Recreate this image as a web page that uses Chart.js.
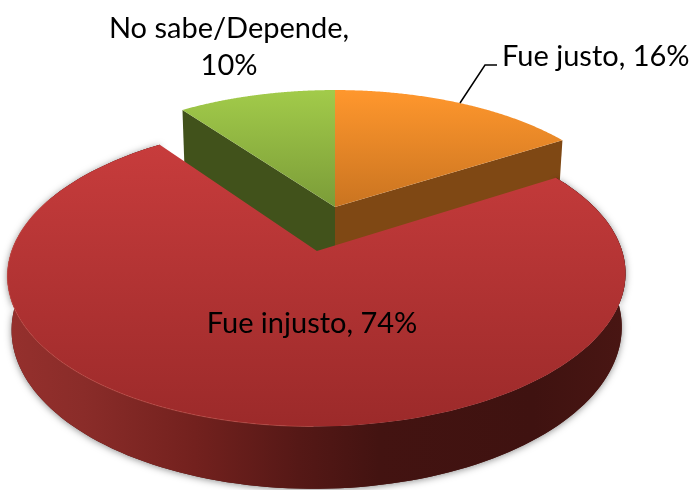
<!DOCTYPE html>
<html><head><meta charset="utf-8">
<style>html,body{margin:0;padding:0;background:#fff}#wrap{width:692px;height:490px;overflow:hidden}</style>
<script src="https://cdn.jsdelivr.net/npm/chart.js@4"></script>
</head><body><div id="wrap"><canvas id="c" width="692" height="490"></canvas></div>
<script>
const categories = ['Fue justo', 'Fue injusto', 'No sabe/Depende'];
const percentages = [16, 74, 10];
const sliceOffsets = [0, 67, 0];
const sliceColors = ['#E8842A', '#B53434', '#8CB043'];

// camera used to lay the flat pie of the library onto the tilted table
const view = {cx: 335, cy: 207, a: 291, b: 134.5, p: 0.15, depth: 50, shrink: 0.987};

function project(X, Y, low) {
  const w = 1 + view.p * Y;
  let sx = view.a * X / w, sy = -view.b * Y / w;
  if (low) { sx *= view.shrink; sy += view.depth / w; }
  return [view.cx + sx, view.cy + sy];
}
function geom(el) {
  const s = el.startAngle + Math.PI / 2, e = el.endAngle + Math.PI / 2, m = (s + e) / 2;
  const d = (el.options.offset || 0) / el.outerRadius;
  return {s, e, ox: d * Math.sin(m), oy: d * Math.cos(m)};
}
function rimPts(g, low, from, to) {
  const n = 160, pts = [];
  const a0 = from === undefined ? g.s : from, a1 = to === undefined ? g.e : to;
  for (let i = 0; i <= n; i++) {
    const t = a0 + (a1 - a0) * i / n;
    pts.push(project(g.ox + Math.sin(t), g.oy + Math.cos(t), low));
  }
  return pts;
}
function trace(ctx, pts) {
  pts.forEach((p, i) => i ? ctx.lineTo(p[0], p[1]) : ctx.moveTo(p[0], p[1]));
}
function vGrad(ctx, y0, y1, c0, c1) {
  const g = ctx.createLinearGradient(0, y0, 0, y1);
  g.addColorStop(0, c0); g.addColorStop(1, c1); return g;
}
function topFace(ctx, g, fill) {
  ctx.beginPath();
  const c = project(g.ox, g.oy, false);
  ctx.moveTo(c[0], c[1]);
  rimPts(g, false).forEach(p => ctx.lineTo(p[0], p[1]));
  ctx.closePath(); ctx.fillStyle = fill; ctx.fill();
}
function radialWall(ctx, g, ang, fill, extra) {
  const c = project(g.ox, g.oy, false), cl = project(g.ox, g.oy, true);
  const r = project(g.ox + Math.sin(ang), g.oy + Math.cos(ang), false);
  const rl = project(g.ox + Math.sin(ang), g.oy + Math.cos(ang), true);
  rl[1] += extra || 0;
  cl[1] += extra || 0;
  ctx.beginPath(); trace(ctx, [c, r, rl, cl]); ctx.closePath();
  ctx.fillStyle = fill; ctx.fill();
}

const pie3d = {
  id: 'pie3d',
  beforeDatasetsDraw(chart) {
    const ctx = chart.ctx, arcs = chart.getDatasetMeta(0).data;
    const [orange, red, green] = arcs.map(geom);
    ctx.save();

    // green and orange, at the back
    radialWall(ctx, green, green.s, '#41521B', 12);
    radialWall(ctx, orange, orange.e, '#7F4814');
    topFace(ctx, orange, vGrad(ctx, 90, 220, '#FF972D', '#C4701F'));
    topFace(ctx, green, vGrad(ctx, 90, 207, '#A2CB4A', '#7B9C38'));

    // red: side band with soft shadow
    const band = rimPts(red, false, red.s, red.e).concat(rimPts(red, true, red.s, red.e).reverse());
    ctx.save();
    ctx.shadowColor = 'rgba(0,0,0,0.45)'; ctx.shadowBlur = 7; ctx.shadowOffsetY = 1;
    ctx.beginPath(); trace(ctx, band); ctx.closePath();
    ctx.fillStyle = '#4a1512'; ctx.fill();
    ctx.restore();
    const side = ctx.createLinearGradient(10, 0, 625, 0);
    side.addColorStop(0, '#95302D');
    side.addColorStop(0.12, '#8A2C29');
    side.addColorStop(0.3, '#73211E');
    side.addColorStop(0.47, '#551816');
    side.addColorStop(0.6, '#431311');
    side.addColorStop(0.85, '#3F1210');
    side.addColorStop(1, '#491613');
    ctx.beginPath(); trace(ctx, band); ctx.closePath();
    ctx.fillStyle = side; ctx.fill();

    // red: top face
    topFace(ctx, red, vGrad(ctx, 145, 425, '#C73C3C', '#9C2A2A'));

    // light rim on the front-left edge
    const rim = ctx.createLinearGradient(10, 0, 420, 0);
    rim.addColorStop(0, 'rgba(222,100,90,0.4)');
    rim.addColorStop(0.8, 'rgba(222,100,90,0.4)');
    rim.addColorStop(1, 'rgba(222,100,90,0)');
    ctx.beginPath();
    trace(ctx, rimPts(red, false, Math.PI, Math.PI * 1.62));
    ctx.strokeStyle = rim; ctx.lineWidth = 1; ctx.stroke();
    ctx.restore();
    return false;
  },
  afterDraw(chart) {
    const ctx = chart.ctx;
    ctx.save();
    ctx.fillStyle = '#000';
    ctx.font = '29px Lato, "Open Sans", sans-serif';
    ctx.textBaseline = 'middle';
    ctx.textAlign = 'center';
    ctx.fillText(categories[2] + ',', 229, 29);
    ctx.fillText(percentages[2] + '%', 229, 66);
    ctx.fillText(categories[1] + ', ' + percentages[1] + '%', 312, 324);
    ctx.textAlign = 'left';
    ctx.fillText(categories[0] + ', ' + percentages[0] + '%', 502, 57);
    ctx.beginPath();
    ctx.moveTo(460, 103); ctx.lineTo(485, 65); ctx.lineTo(497, 65);
    ctx.strokeStyle = '#000'; ctx.lineWidth = 1.5; ctx.stroke();
    ctx.restore();
  }
};

new Chart(document.getElementById('c'), {
  type: 'pie',
  data: {
    labels: categories,
    datasets: [{data: percentages, backgroundColor: sliceColors, offset: sliceOffsets, borderWidth: 0}]
  },
  options: {
    responsive: false,
    animation: false,
    layout: {padding: 0},
    plugins: {legend: {display: false}, tooltip: {enabled: false}}
  },
  plugins: [pie3d]
});
</script></body></html>
